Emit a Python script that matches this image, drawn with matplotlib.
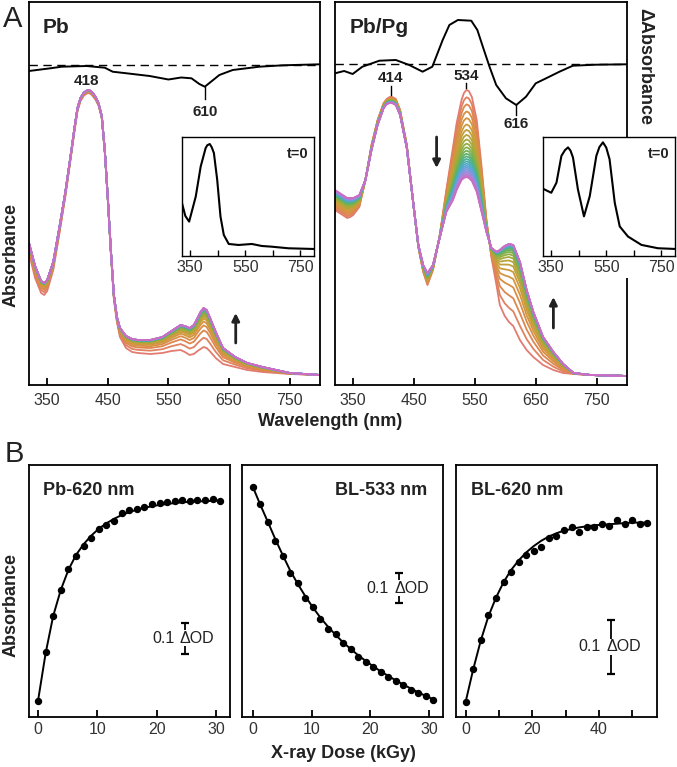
import matplotlib.pyplot as plt
import numpy as np
from matplotlib.colors import LinearSegmentedColormap
from matplotlib.patches import Rectangle

plt.rcParams['font.family'] = ['Liberation Sans', 'DejaVu Sans']

# ---------------- Panel A data (arbitrary absorbance units) ----------------
wl_pb = [320, 330, 340, 345, 350, 360, 370, 380, 390, 395, 400, 405, 410, 414, 418,
         422, 425, 430, 435, 440, 445, 450, 455, 460, 465, 470, 480, 490, 500, 520,
         540, 555, 570, 577, 585, 592, 598, 603, 608, 613, 618, 628, 640, 660, 680,
         705, 750, 800]
pb_first = [132, 107, 92, 90, 94, 115, 151, 189, 232, 254, 274, 284, 289, 291, 292,
            291, 289, 285, 279, 267, 233, 185, 132, 86, 63, 48, 37, 33, 32, 31,
            32, 34, 35, 33, 30, 31, 34, 36, 38, 37, 34, 27, 21, 18, 15,
            13, 11, 10]
pb_last = [142, 119, 104, 102, 105, 123, 157, 193, 235, 257, 277, 287, 292, 294, 295,
           294, 292, 288, 281, 269, 235, 187, 135, 90, 68, 57, 49, 46, 45, 45,
           48, 54, 60, 59, 57, 60, 67, 73, 77, 75, 68, 53, 37, 28, 22,
           18, 12, 10]

wl_pg = [320, 330, 340, 345, 350, 360, 370, 380, 390, 400, 405, 410, 414, 420, 427,
         438, 449, 457, 465, 472, 481, 492, 503, 514, 520, 528, 532, 536, 540, 545,
         553, 561, 569, 577, 586, 591, 599, 606, 613, 624, 635, 646, 662, 679, 695,
         712, 740, 800]
pg_first = [175, 171, 167, 168, 170, 178, 205, 240, 265, 282, 286, 288, 288, 286, 275,
            240, 180, 138, 113, 100, 115, 149, 195, 238, 262, 285, 292, 295, 294, 288,
            265, 218, 165, 128, 98, 80, 69, 63, 59, 45, 35, 28, 20, 15, 12,
            11, 10, 9]
pg_last = [195, 191, 187, 187, 187, 190, 205, 235, 260, 277, 281, 282, 282, 280, 270,
           237, 180, 140, 120, 112, 120, 147, 173, 185, 195, 205, 207, 208, 207, 204,
           193, 173, 153, 137, 133, 135, 139, 141, 140, 123, 95, 73, 48, 33, 21,
           12, 10, 9]

# difference spectra (t=0 minus final)
dwl_pb = [320, 355, 374, 415, 445, 458, 481, 519, 550, 571, 588, 601, 610, 617, 634,
          656, 700, 739, 800]
dpb = [-6, -3.3, -1.7, -1, -2.7, -6.7, -8.3, -11, -14.5, -12.5, -13.3, -19, -21.7, -18.3,
       -10, -5, -1.7, -0.3, 0.7]
dwl_pg = [320, 335, 349, 365, 393, 420, 442, 464, 480, 497, 508, 522, 544, 554, 563,
          574, 585, 601, 618, 634, 650, 667, 689, 711, 749, 800]
dpg = [-9, -6.7, -9.7, -2.4, 3.6, 4.3, -0.7, -7.4, -2.4, 24.3, 39.3, 44.3, 43.6, 34.3,
       17.6, -2.4, -20.7, -34, -40.7, -32.4, -19, -14, -7.4, -1.4, -0.4, 0]

# t=0 insets
ins_wl_pb = [320, 332, 346, 370, 388, 406, 412, 421, 428, 436, 448, 460, 472, 490, 526,
             574, 610, 646, 707, 800]
ins_pb = [52.7, 40, 34.3, 59.3, 89.3, 107.7, 110.5, 111.7, 108.5, 102.7, 76, 39.3, 21,
          12, 11, 12, 10, 9.3, 7.7, 7]
ins_wl_pg = [320, 350, 369, 387, 400, 411, 420, 429, 447, 469, 490, 514, 525, 538, 550,
             562, 581, 599, 629, 678, 738, 800]
ins_pg = [66.7, 62.7, 72.7, 99.3, 105, 107.7, 104.5, 97.7, 66, 39.3, 59.3, 99.3, 108,
          112.7, 107.5, 96, 52.7, 29.3, 19.3, 11, 7.7, 7]

# ---------------- Panel B data (absorbance, OD) ----------------
dose_31 = [0, 1.28, 2.56, 3.84, 5.12, 6.40, 7.68, 8.96, 10.24, 11.52, 12.80, 14.08,
           15.36, 16.64, 17.92, 19.20, 20.48, 21.76, 23.04, 24.32, 25.60, 26.88, 28.16,
           29.44, 30.72]
pb620 = [0.050, 0.203, 0.318, 0.400, 0.465, 0.508, 0.538, 0.565, 0.591, 0.605, 0.618,
         0.642, 0.652, 0.656, 0.662, 0.670, 0.675, 0.677, 0.680, 0.684, 0.679, 0.683,
         0.685, 0.686, 0.681]
pb620_fit = [0.050, 0.200, 0.318, 0.400, 0.463, 0.510, 0.544, 0.571, 0.593, 0.610, 0.624,
             0.636, 0.645, 0.653, 0.659, 0.664, 0.668, 0.671, 0.674, 0.676, 0.678, 0.679,
             0.680, 0.681, 0.682]
bl533 = [0.767, 0.709, 0.648, 0.586, 0.536, 0.480, 0.447, 0.395, 0.367, 0.325, 0.292,
         0.275, 0.245, 0.225, 0.200, 0.183, 0.167, 0.148, 0.133, 0.120, 0.106, 0.090,
         0.079, 0.069, 0.056]
bl533_fit = [0.767, 0.707, 0.650, 0.592, 0.538, 0.486, 0.442, 0.401, 0.364, 0.330, 0.300,
             0.273, 0.248, 0.226, 0.205, 0.186, 0.168, 0.151, 0.136, 0.121, 0.107, 0.094,
             0.081, 0.069, 0.058]
dose_55 = [0, 2.27, 4.54, 6.81, 9.08, 11.35, 13.62, 15.89, 18.16, 20.43, 22.70, 24.97,
           27.24, 29.51, 31.78, 34.05, 36.32, 38.59, 40.86, 43.13, 45.40, 47.67, 49.94,
           52.21, 54.48]
bl620 = [0.028, 0.089, 0.144, 0.191, 0.222, 0.253, 0.272, 0.291, 0.303, 0.310, 0.319,
         0.336, 0.338, 0.350, 0.355, 0.347, 0.355, 0.356, 0.361, 0.358, 0.368, 0.362,
         0.369, 0.361, 0.364]
bl620_fit = [0.028, 0.089, 0.143, 0.188, 0.223, 0.252, 0.275, 0.293, 0.308, 0.320, 0.330,
             0.338, 0.344, 0.349, 0.352, 0.355, 0.357, 0.359, 0.360, 0.361, 0.362, 0.363,
             0.364, 0.364, 0.364]

spec_colors = ['#e27b70', '#dc8a48', '#cf9a3c', '#b3a53a', '#8cb043', '#5fb267',
               '#4bb0a0', '#52a9d4', '#7f97e0', '#a986d8', '#cc6dc2']
cmap = LinearSegmentedColormap.from_list('spec', spec_colors)

W, H = 677, 767
fig = plt.figure(figsize=(W / 100, H / 100), dpi=100)


def box(x0, y0, x1, y1):
    return [x0 / W, 1 - y1 / H, (x1 - x0) / W, (y1 - y0) / H]


def style(ax, lw=1.3, ticklen=5, size=11.5, pad=6):
    for s in ax.spines.values():
        s.set_linewidth(lw)
    ax.set_yticks([])
    ax.tick_params(axis='x', direction='in', length=ticklen, width=lw,
                   labelsize=size, labelcolor='#333333', pad=pad)


TXT = '#222222'

# ---------------- Panel A ----------------
ax1 = fig.add_axes(box(29, 2, 320, 385))
ax2 = fig.add_axes(box(335, 2, 627, 385))
for ax in (ax1, ax2):
    ax.set_xlim(320, 800)
    ax.set_ylim(0, 383)
    ax.set_xticks([350, 450, 550, 650, 750])
    style(ax)

# Pb spectral series
fpb = (np.array(pb620_fit) - pb620_fit[0]) / (pb620_fit[-1] - pb620_fit[0])
first, last = np.array(pb_first, float), np.array(pb_last, float)
n = len(fpb)
for i in range(n):
    ax1.plot(wl_pb, first + (last - first) * fpb[i], color=cmap(i / (n - 1)), lw=1.3,
             solid_joinstyle='round')

# Pb/Pg spectral series
f533 = (bl533_fit[0] - np.array(bl533_fit)) / (bl533_fit[0] - bl533_fit[-1])
f620 = (np.array(bl620_fit) - bl620_fit[0]) / (bl620_fit[-1] - bl620_fit[0])
wgt = np.clip((np.array(wl_pg) - 565) / 15.0, 0, 1)
first, last = np.array(pg_first, float), np.array(pg_last, float)
for i in range(n):
    f = (1 - wgt) * f533[i] + wgt * f620[i]
    ax2.plot(wl_pg, first + (last - first) * f, color=cmap(i / (n - 1)), lw=1.3,
             solid_joinstyle='round')

# difference spectra on top
for ax, dw, dv, zero in ((ax1, dwl_pb, dpb, 320), (ax2, dwl_pg, dpg, 320.7)):
    d = ax.twinx()
    d.set_ylim(-zero, 383 - zero)
    d.set_yticks([])
    for s in d.spines.values():
        s.set_visible(False)
    d.axhline(0, color='k', lw=1.0, dashes=(6, 4))
    d.plot(dw, dv, color='k', lw=1.4, solid_joinstyle='round')

# peak labels
lab = dict(ha='center', va='center', fontsize=11, fontweight='bold', color=TXT)
ax1.text(415, 304, '418', **lab)
ax1.plot([610, 610], [298, 286], color='k', lw=1)
ax1.text(610, 273, '610', **lab)
ax2.plot([412, 412], [299, 290], color='k', lw=1)
ax2.text(412, 306.5, '414', **lab)
ax2.plot([535, 535], [302, 297], color='k', lw=1)
ax2.text(535, 309, '534', **lab)
ax2.plot([618, 618], [280, 270], color='k', lw=1)
ax2.text(618, 261, '616', **lab)

arr = dict(arrowstyle='-|>', lw=2, color='#222222', mutation_scale=11,
           shrinkA=0, shrinkB=0)
ax1.annotate('', xy=(661, 72), xytext=(661, 42), arrowprops=arr)
ax2.annotate('', xy=(487, 217), xytext=(487, 248), arrowprops=arr)
ax2.annotate('', xy=(679, 88), xytext=(679, 57), arrowprops=arr)

# white area below right inset (covers the right spine there)
fig.add_artist(Rectangle((543 / W, 1 - 278 / H), 134 / W, 22 / H,
                         transform=fig.transFigure, fc='white', ec='none', zorder=2))

# insets
for bx, iw, iv, ytop in ((box(182, 137, 314, 256), ins_wl_pb, ins_pb, 118.7),
                         (box(543, 137, 675, 256), ins_wl_pg, ins_pg, 118)):
    ia = fig.add_axes(bx, zorder=3)
    ia.plot(iw, iv, color='k', lw=1.5, solid_joinstyle='round')
    ia.set_xlim(320, 800)
    ia.set_ylim(0, ytop)
    ia.set_xticks([350, 450, 550, 650, 750])
    ia.set_xticklabels(['350', '', '550', '', '750'])
    style(ia, lw=1.0, ticklen=4, size=11.5, pad=3)
    ia.text(0.96, 0.82, 't=0', transform=ia.transAxes, ha='right', va='baseline',
            fontsize=10.5, fontweight='bold', color=TXT)

fig.text(43 / W, 1 - 33 / H, 'Pb', fontsize=15, fontweight='bold', color=TXT,
         va='baseline')
fig.text(350 / W, 1 - 33 / H, 'Pb/Pg', fontsize=15, fontweight='bold', color=TXT,
         va='baseline')
fig.text(645 / W, 1 - 66 / H, 'ΔAbsorbance', rotation=-90, ha='center', va='center',
         fontsize=13, fontweight='bold', color=TXT)
fig.text(11 / W, 1 - 255 / H, 'Absorbance', rotation=90, ha='center', va='center',
         fontsize=13, fontweight='bold', color=TXT)
fig.text(330 / W, 1 - 421 / H, 'Wavelength (nm)', ha='center', va='center',
         fontsize=13, fontweight='bold', color=TXT)
fig.text(3 / W, 1 - 19 / H, 'A', fontsize=21, va='center', ha='left', color=TXT)

# ---------------- Panel B ----------------
b1 = fig.add_axes(box(29, 465, 230, 716.7))
b2 = fig.add_axes(box(242, 465, 443, 716.7))
b3 = fig.add_axes(box(456, 465, 657, 716.7))

panels = [
    (b1, dose_31, pb620, pb620_fit, (-1.52, 32.36), 0.794, [0, 10, 20, 30], None),
    (b2, dose_31, bl533, bl533_fit, (-1.82, 32.35), 0.839, [0, 10, 20, 30], None),
    (b3, dose_55, bl620, bl620_fit, (-2.9, 57.4), 0.472, [0, 10, 20, 30, 40, 50],
     ['0', '', '20', '', '40', '']),
]
for ax, x, y, yf, xl, ytop, ticks, tl in panels:
    ax.plot(x, yf, color='k', lw=1.4, solid_joinstyle='round')
    ax.plot(x, y, 'o', color='k', ms=4.3)
    ax.set_xlim(*xl)
    ax.set_ylim(0, ytop)
    ax.set_xticks(ticks)
    if tl:
        ax.set_xticklabels(tl)
    style(ax, pad=4)


def scalebar(ax, x, y0, y1):
    ym = (y0 + y1) / 2
    ax.plot([x, x], [y0, y1], color='k', lw=1.3)
    ax.plot([x, x], [y0, y1], ls='none', marker='_', ms=6, mew=1.6, color='k')
    ax.annotate('ΔOD', xy=(x, ym), xytext=(-3.3, 0), textcoords='offset points',
                ha='left', va='center', fontsize=11.5, color=TXT,
                bbox=dict(fc='white', ec='none', pad=0.3))
    ax.annotate('0.1', xy=(x, ym), xytext=(-7.2, 0), textcoords='offset points',
                ha='right', va='center', fontsize=11.5, color=TXT)


scalebar(b1, 24.7, 0.197, 0.297)
scalebar(b2, 24.8, 0.378, 0.478)
scalebar(b3, 43.5, 0.081, 0.181)

bl = dict(fontsize=13, fontweight='bold', color=TXT, va='baseline')
fig.text(43 / W, 1 - 495 / H, 'Pb-620 nm', **bl)
fig.text(427 / W, 1 - 495 / H, 'BL-533 nm', ha='right', **bl)
fig.text(471 / W, 1 - 495 / H, 'BL-620 nm', **bl)
fig.text(11 / W, 1 - 605 / H, 'Absorbance', rotation=90, ha='center', va='center',
         fontsize=13, fontweight='bold', color=TXT)
fig.text(343 / W, 1 - 753 / H, 'X-ray Dose (kGy)', ha='center', va='center',
         fontsize=13, fontweight='bold', color=TXT)
fig.text(5 / W, 1 - 454 / H, 'B', fontsize=21, va='center', ha='left', color=TXT)

fig.savefig('out.png', dpi=100)
